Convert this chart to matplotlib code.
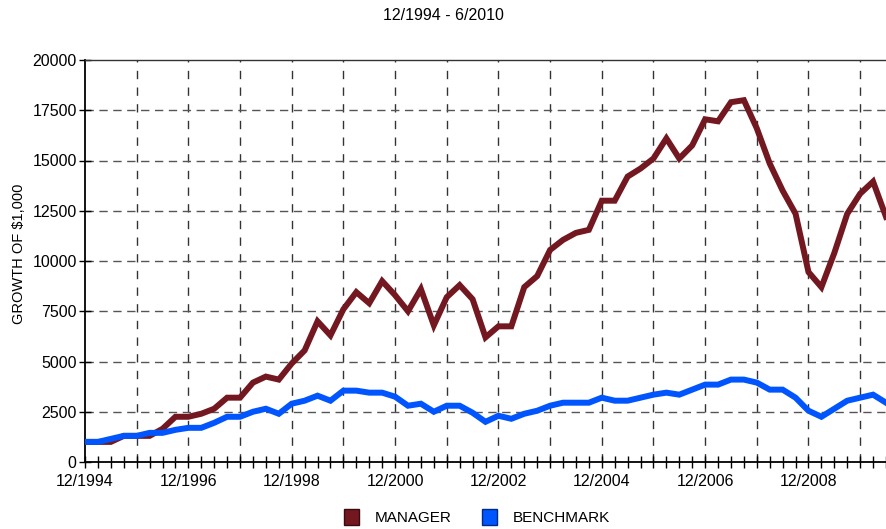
import matplotlib
matplotlib.use("Agg")
import matplotlib.pyplot as plt
from matplotlib.patches import Patch
from matplotlib.ticker import FixedLocator
import numpy as np

plt.rcParams['font.family'] = ['Liberation Sans', 'DejaVu Sans']

# Quarter-end values, 12/1994 through 6/2010
manager = [1000, 1000, 1000, 1300, 1300, 1300, 1650, 2250, 2250, 2400,
           2650, 3200, 3200, 3950, 4250, 4100, 4900, 5550, 7000, 6300,
           7600, 8450, 7900, 9000, 8300, 7500, 8600, 6800, 8200, 8800,
           8100, 6200, 6750, 6750, 8700, 9250, 10550, 11050, 11400, 11550,
           13000, 13000, 14200, 14600, 15100, 16100, 15100, 15750, 17050, 16950,
           17900, 18000, 16600, 14850, 13500, 12350, 9450, 8700, 10400, 12350,
           13350, 13950, 12200]
benchmark = [1000, 1000, 1150, 1300, 1300, 1450, 1450, 1600, 1700, 1700,
             1950, 2250, 2250, 2500, 2650, 2400, 2900, 3050, 3300, 3050,
             3550, 3550, 3450, 3450, 3250, 2800, 2900, 2500, 2800, 2800,
             2450, 2000, 2300, 2150, 2400, 2550, 2800, 2950, 2950, 2950,
             3200, 3050, 3050, 3200, 3350, 3450, 3350, 3600, 3850, 3850,
             4100, 4100, 3950, 3600, 3600, 3200, 2550, 2250, 2650, 3050,
             3200, 3350, 2950]
tick_labels = ["12/1994", "12/1996", "12/1998", "12/2000",
               "12/2002", "12/2004", "12/2006", "12/2008"]
series_names = ["MANAGER", "BENCHMARK"]
colors = ["#731820", "#0055FF"]

x = np.arange(len(manager)) * 0.25  # years since 12/1994

fig = plt.figure(figsize=(8.86, 5.29), dpi=100)
ax = fig.add_axes([85/886, 1 - 462/529, 801/886, (462 - 60)/529])

ax.plot(x, manager, color=colors[0], lw=4.3, solid_joinstyle='miter', zorder=3)
ax.plot(x, benchmark, color=colors[1], lw=4.3, solid_joinstyle='miter', zorder=4)

ax.set_xlim(0, x[-1])
ax.set_ylim(0, 20000)

ax.set_yticks(np.arange(0, 20001, 2500))
ax.set_yticklabels([str(v) for v in range(0, 20001, 2500)])

ax.set_xticks(np.arange(0, 15, 2))
ax.set_xticklabels(tick_labels)
ax.xaxis.set_minor_locator(FixedLocator(np.arange(0, x[-1] + 0.01, 0.25)))

ax.tick_params(axis='both', which='both', direction='inout', color='black',
               width=1.0, labelsize=11.5, colors='black')
ax.tick_params(axis='x', which='major', length=9, pad=4)
ax.tick_params(axis='x', which='minor', length=9)
ax.tick_params(axis='y', which='major', length=8, pad=2)

# yearly vertical grid, dashed horizontal grid
for yr in np.arange(1, 16):
    ax.axvline(yr, color='#333333', lw=1.0, ls=(0, (6, 6)), zorder=1)
for v in np.arange(2500, 20000, 2500):
    ax.axhline(v, color='#555555', lw=1.0, ls=(0, (6, 4)), zorder=1)

for side in ['left', 'bottom']:
    ax.spines[side].set_color('black')
    ax.spines[side].set_linewidth(1.3)
ax.spines['top'].set_linewidth(1.0)
ax.spines['top'].set_color('#333333')
ax.spines['right'].set_visible(False)

fig.text(19/886, 1 - 254/529, "GROWTH OF $1,000", rotation=90,
         ha='center', va='center', fontsize=10.5)

fig.text(0.5, 1 - 15/529, "12/1994 - 6/2010", ha='center', va='center', fontsize=11.5)

handles = [Patch(facecolor=colors[0], edgecolor='#3a0a10', lw=1.0),
           Patch(facecolor=colors[1], edgecolor='#002a80', lw=1.0)]
fig.legend(handles, series_names, loc='center', bbox_to_anchor=(477/886, 1 - 517/529),
           ncol=2, frameon=False, fontsize=11, handlelength=1.0, handleheight=1.3,
           handletextpad=1.0, columnspacing=2.0)

fig.savefig("out.png", dpi=100)
